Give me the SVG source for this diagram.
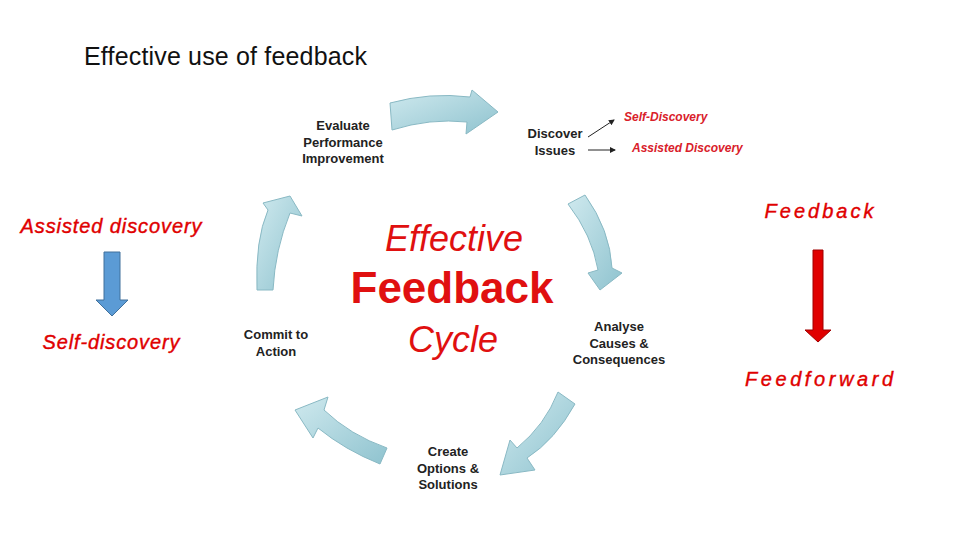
<svg xmlns="http://www.w3.org/2000/svg" width="960" height="540" viewBox="0 0 960 540">
<defs>
<linearGradient id="ag" x1="0" y1="0" x2="1" y2="1"><stop offset="0" stop-color="#cfe9ee"/><stop offset="1" stop-color="#8fc3cf"/></linearGradient>
<marker id="sm" markerWidth="6" markerHeight="6" refX="5" refY="3" orient="auto"><path d="M0,0 L6,3 L0,6 Z" fill="#222"/></marker>
</defs>
<style>
.ca{fill:url(#ag);stroke:#89b9c4;stroke-width:1}
.n{font-family:"Liberation Sans",Arial,sans-serif;font-weight:bold;font-size:13px;fill:#222;text-anchor:middle}
.r{font-family:"Liberation Sans",Arial,sans-serif;font-style:italic;font-weight:bold;font-size:12px;fill:#d9202a}
.s{font-family:"Liberation Sans",Arial,sans-serif;font-style:italic;font-size:20px;fill:#e00000;stroke:#e00000;stroke-width:0.4;text-anchor:middle}
.c{font-family:"Liberation Sans",Arial,sans-serif;fill:#e01010;text-anchor:middle}
</style>
<rect width="960" height="540" fill="#fff"/>
<text x="84" y="65" font-family="'Liberation Sans',Arial,sans-serif" font-size="25" fill="#111" textLength="283">Effective use of feedback</text>
<g id="connectors">
<path class="ca" d="M390,103 Q430,92 470,97 L472,90 L498,112 L466,134 L467,122 Q430,118 392,130 Z"/>
<path class="ca" d="M568,204 L585,195 Q610,230 612,268 L622,273 L600,290 L588,273 L598,270 Q592,235 568,204 Z"/>
<path class="ca" d="M558,392 L575,404 Q555,440 527,458 L535,470 L500,475 L510,440 L517,448 Q545,425 558,392 Z"/>
<path class="ca" d="M387,448 L380,464 Q345,450 318,428 L313,438 L295,410 L328,397 L324,410 Q350,435 387,448 Z"/>
<path class="ca" d="M257,290 Q255,240 268,210 L263,203 L290,196 L302,216 L290,213 Q275,250 273,290 Z"/>
<line x1="588" y1="137" x2="614" y2="120" stroke="#222" stroke-width="1" marker-end="url(#sm)"/>
<line x1="588" y1="150" x2="615" y2="150" stroke="#222" stroke-width="1" marker-end="url(#sm)"/>
<path d="M104,252 H120 V300 H128 L112,316 L96,300 H104 Z" fill="#5b9bd5" stroke="#41719c" stroke-width="1"/>
<path d="M813,250 H823 V330 H831 L818,342 L805,330 H813 Z" fill="#e00000" stroke="#a00000" stroke-width="1"/>
</g>
<g id="center">
<text class="c" x="454" y="251" font-size="36" font-style="italic">Effective</text>
<text class="c" x="452" y="303" font-size="44" font-weight="bold">Feedback</text>
<text class="c" x="453" y="352" font-size="36" font-style="italic">Cycle</text>
</g>
<g id="evaluate"><text class="n" x="343" y="130">Evaluate</text><text class="n" x="343" y="147">Performance</text><text class="n" x="343" y="163">Improvement</text></g>
<g id="discover"><text class="n" x="555" y="138">Discover</text><text class="n" x="555" y="155">Issues</text>
<text class="r" x="624" y="121">Self-Discovery</text><text class="r" x="632" y="152">Assisted Discovery</text></g>
<g id="analyse"><text class="n" x="619" y="331">Analyse</text><text class="n" x="619" y="348">Causes &amp;</text><text class="n" x="619" y="364">Consequences</text></g>
<g id="create"><text class="n" x="448" y="456">Create</text><text class="n" x="448" y="473">Options &amp;</text><text class="n" x="448" y="489">Solutions</text></g>
<g id="commit"><text class="n" x="276" y="339">Commit to</text><text class="n" x="276" y="356">Action</text></g>
<g id="left"><text class="s" x="111" y="233" textLength="181">Assisted discovery</text><text class="s" x="111" y="349" textLength="137">Self-discovery</text></g>
<g id="right"><text class="s" x="819" y="218" font-size="22" textLength="109">Feedback</text><text class="s" x="819" y="386" font-size="22" textLength="148">Feedforward</text></g>
</svg>
